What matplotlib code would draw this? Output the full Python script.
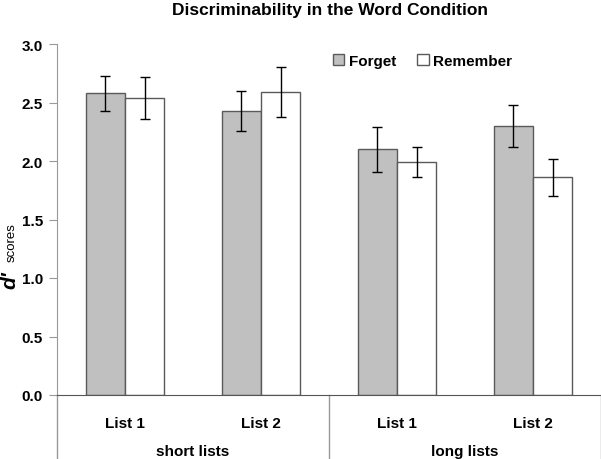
import matplotlib
matplotlib.use("Agg")
import matplotlib.pyplot as plt
import numpy as np
from matplotlib.patches import Patch

plt.rcParams['font.family'] = ['Liberation Sans', 'DejaVu Sans']

categories = ["List 1", "List 2", "List 1", "List 2"]
groups = ["short lists", "long lists"]
series = ["Forget", "Remember"]
forget = [2.58, 2.43, 2.10, 2.30]
forget_err = [0.15, 0.17, 0.19, 0.18]
remember = [2.54, 2.59, 1.99, 1.86]
remember_err = [0.18, 0.21, 0.13, 0.16]
yticks = [0.0, 0.5, 1.0, 1.5, 2.0, 2.5, 3.0]

W, H = 601, 460
fig = plt.figure(figsize=(W/100, H/100), dpi=100)
ax = fig.add_axes([57/W, 1-396/H, (W-57)/W, (396-45)/H])

x = np.arange(len(categories))
bw = 0.287
ax.bar(x - bw/2, forget, bw, color='#c0c0c0', edgecolor='#5a5a5a', linewidth=1.0,
       yerr=forget_err, error_kw=dict(ecolor='black', elinewidth=1.0, capsize=3.5, capthick=1.0),
       label=series[0])
ax.bar(x + bw/2, remember, bw, color='white', edgecolor='#5a5a5a', linewidth=1.0,
       yerr=remember_err, error_kw=dict(ecolor='black', elinewidth=1.0, capsize=3.5, capthick=1.0),
       label=series[1])

ax.set_xlim(-0.5, 3.5)
ax.set_ylim(0, 3.0)
ax.set_yticks(yticks)
ax.set_yticklabels([f"{v:.1f}" for v in yticks], fontsize=11, fontweight='bold')
ax.set_xticks([])
for s in ['top', 'right']:
    ax.spines[s].set_visible(False)
ax.spines['left'].set_color('#999999')
ax.spines['bottom'].set_color('#555555')
ax.tick_params(axis='y', length=6, color='#999999', pad=4)

# category labels and group labels
trans = ax.get_xaxis_transform()
for xi, c in zip(x, categories):
    ax.text(xi, -28/351, c, transform=trans, ha='center', va='center',
            fontsize=11, fontweight='bold')
for gi, g in enumerate(groups):
    ax.text(gi*2 + 0.5, -56/351, g, transform=trans, ha='center', va='center',
            fontsize=11, fontweight='bold')
for xv in [-0.5, 1.5, 3.5]:
    ax.plot([xv, xv], [0, -70/351], transform=trans, color='#999999', lw=1.0, clip_on=False)

# title
fig.text(330/W, 1-10/H, "Discriminability in the Word Condition", ha='center', va='center',
         fontsize=12.5, fontweight='bold')

# y label
fig.text(15/W, 1-289/H, "d'", rotation=90, rotation_mode='anchor', ha='left', va='baseline',
         fontsize=15, fontweight='bold', fontstyle='italic')
fig.text(15/W, 1-262/H, "scores", rotation=90, rotation_mode='anchor', ha='left', va='baseline',
         fontsize=9.5)

handles = [Patch(facecolor='#c0c0c0', edgecolor='#5a5a5a'), Patch(facecolor='white', edgecolor='#5a5a5a')]
leg = fig.legend(handles, series, loc='center left', bbox_to_anchor=(319/W, 1-62/H), ncol=2,
                 frameon=False, handlelength=0.75, handleheight=0.75, handletextpad=0.3,
                 columnspacing=1.4, prop=dict(size=11, weight='bold'))

fig.savefig("out.png", dpi=100)
